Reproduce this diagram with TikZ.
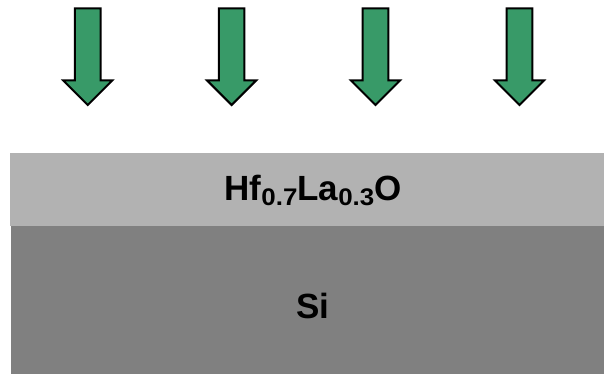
\documentclass[tikz,border=0pt]{standalone}
\usepackage{fontspec}
\setmainfont{Liberation Sans}
\definecolor{arrowgreen}{RGB}{56,154,104}
\definecolor{oxidegray}{RGB}{178,178,178}
\definecolor{sigray}{RGB}{128,128,128}
\newcommand{\sbs}[1]{\raisebox{-5.7pt}{\scalebox{1.08}[1]{\fontsize{24}{24}\selectfont #1}}}
\begin{document}
\begin{tikzpicture}[x=1pt,y=-1pt,
  downarrow/.style={draw=black,line width=2pt,fill=arrowgreen,line join=miter},
  layertext/.style={font=\fontsize{35}{35}\selectfont\bfseries,inner sep=0pt}]
\useasboundingbox (0,0) rectangle (604,374);
\fill[oxidegray] (10,153) rectangle (604,226);
\fill[sigray] (11,226) rectangle (604,374);
\foreach \cx/\nm in {87.7/a1,231.6/a2,375.5/a3,519.5/a4}{
  \draw[downarrow] (\cx-12.8,8.5) -- (\cx+12.8,8.5) -- (\cx+12.8,80.5) -- (\cx+24.5,80.5)
    -- (\cx,105) -- (\cx-24.5,80.5) -- (\cx-12.8,80.5) -- cycle;
}
\node[layertext,anchor=base] (ox) at (313,200) {Hf\sbs{0.7}La\sbs{0.3}O};
\node[layertext,anchor=base] (si) at (313,318.3) {Si};
\end{tikzpicture}
\end{document}
